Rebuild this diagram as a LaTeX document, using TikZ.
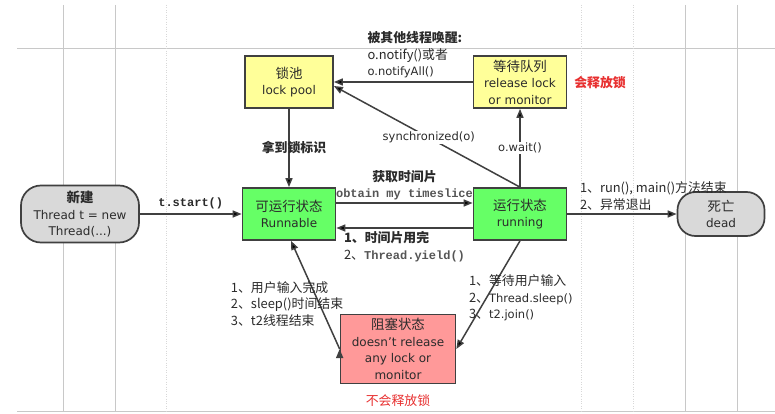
\documentclass[tikz,border=0pt]{standalone}
\usepackage{fontspec}
\setmainfont{DejaVu Sans}
\setmonofont{Liberation Mono}
\newfontfamily\cjk[Scale=1.12]{Noto Sans CJK SC}
\usetikzlibrary{arrows.meta}

\definecolor{linegray}{HTML}{404040}
\definecolor{textgray}{HTML}{2B2B2B}
\definecolor{codegray}{HTML}{555555}
\definecolor{gridgray}{HTML}{C8C8C8}
\definecolor{runcolor}{HTML}{66FF66}
\definecolor{poolcolor}{HTML}{FFFF99}
\definecolor{blockcolor}{HTML}{FF9999}
\definecolor{endcolor}{HTML}{D9D9D9}
\definecolor{lockred}{HTML}{E83030}

\newcommand{\codefont}{\ttfamily\bfseries\fontsize{12}{14}\selectfont\color{codegray}}

\tikzset{
  state/.style={draw=linegray, line width=1.7pt, text=textgray, align=center,
    minimum width=93pt, minimum height=52pt, inner sep=1pt,
    font=\fontsize{12}{16.5}\selectfont},
  startstop/.style={state, fill=endcolor, rounded corners=20pt},
  lbl/.style={text=textgray, inner sep=1pt, font=\fontsize{11.5}{16.5}\selectfont},
  trans/.style={->, draw=linegray, line width=1.5pt}
}

\begin{document}
\begin{tikzpicture}[x=1pt,y=-1pt,>={Triangle[length=9pt,width=7pt]}]
  \useasboundingbox (0,0) rectangle (775,414);
  \fill[white] (0,0) rectangle (775,414);
  % background lines
  \draw[gridgray, line width=0.8pt] (17,48) -- (775,48) (17,411) -- (775,411)
    (63,5) -- (63,411) (115,5) -- (115,411) (685,5) -- (685,411) (737,5) -- (737,411);
  \draw[gridgray!70, dotted] (166,5) -- (166,411) (581,5) -- (581,411) (633,5) -- (633,411);

  \node[startstop, minimum width=118pt, minimum height=57pt] (NEW) at (80,214)
    {{\cjk\bfseries 新建}\\Thread t = new\\Thread(...)};
  \node[state, fill=runcolor]  (RUNNABLE) at (289,214) {{\cjk 可运行状态}\\Runnable};
  \node[state, fill=poolcolor, minimum width=88pt] (LOCKPOOL) at (289,82) {{\cjk 锁池}\\lock pool};
  \node[state, fill=poolcolor] (WAITING)  at (520,82)  {{\cjk 等待队列}\\release lock\\or monitor};
  \node[state, fill=runcolor]  (RUNNING)  at (520,214) {{\cjk 运行状态}\\running};
  \node[startstop, minimum width=87pt, minimum height=44pt, rounded corners=18pt] (DEAD) at (721,214)
    {{\cjk 死亡}\\dead};
  \node[state, fill=blockcolor, minimum width=115pt, minimum height=69pt] (BLOCKED) at (398,349)
    {{\cjk 阻塞状态}\\doesn't release\\any lock or\\monitor};

  \node[lbl, text=lockred] (RELEASE) at (600,83) {\cjk\bfseries 会释放锁};
  \node[lbl, text=lockred] (NORELEASE) at (398,401) {\cjk 不会释放锁};

  \path[trans]
    (NEW) edge node[lbl, above=3pt, font=\codefont] {t.start()} (RUNNABLE)
    (LOCKPOOL) edge node[lbl, xshift=5pt] {\cjk\bfseries 拿到锁标识} (RUNNABLE)
    (WAITING.west) edge node[lbl, anchor=south west, pos=0.77, align=left, yshift=2pt]
      {{\cjk\bfseries 被其他线程唤醒:}\\{\cjk o.notify()或者}\\o.notifyAll()} (LOCKPOOL.east)
    (RUNNING.north) edge node[lbl, fill=white, pos=0.49] {synchronized(o)} ([yshift=-4pt]LOCKPOOL.east)
    (RUNNING.north) edge node[lbl, fill=white] {o.wait()} (WAITING.south)
    ([yshift=11pt]RUNNABLE.east) edge node[lbl, above=1pt, align=center]
      {{\cjk\bfseries 获取时间片}\\{\codefont obtain my timeslice}} ([yshift=11pt]RUNNING.west)
    ([yshift=-14pt]RUNNING.west) edge node[lbl, below=2pt, align=left]
      {{\cjk\bfseries 1、时间片用完}\\{\cjk 2、}{\codefont Thread.yield()}} ([yshift=-14pt]RUNNABLE.east)
    (RUNNING.east) edge node[lbl, anchor=south west, pos=0.1, align=left, yshift=2pt]
      {{\cjk 1、run(), main()方法结束}\\{\cjk 2、异常退出}} (DEAD.west)
    (RUNNING.south) edge node[lbl, anchor=west, pos=0.53, xshift=-19pt, align=left]
      {{\cjk 1、等待用户输入}\\{\cjk 2、}Thread.sleep()\\{\cjk 3、}t2.join()} (BLOCKED.east)
    (BLOCKED.west) edge node[lbl, anchor=west, pos=0.42, xshift=-90pt, align=left]
      {{\cjk 1、用户输入完成}\\{\cjk 2、sleep()时间结束}\\{\cjk 3、t2线程结束}} ([xshift=2pt]RUNNABLE.south);
\end{tikzpicture}
\end{document}
